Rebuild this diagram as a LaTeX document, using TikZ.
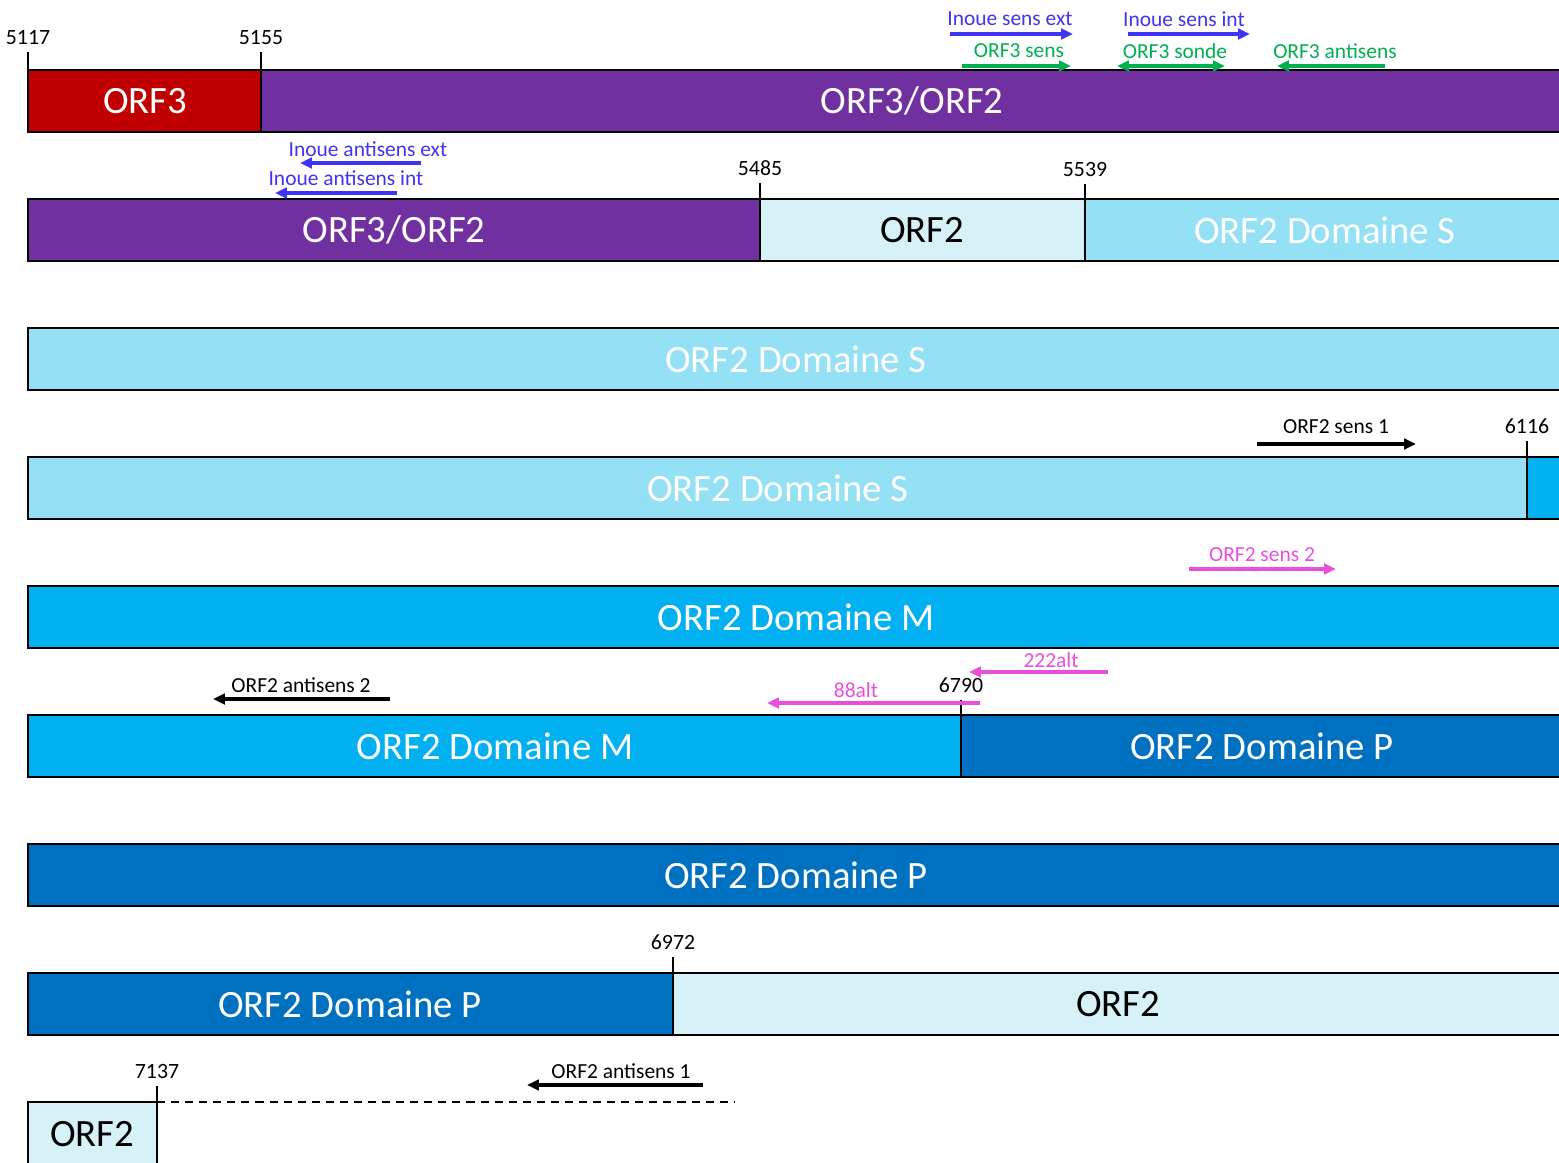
\documentclass[tikz,border=0pt]{standalone}
\usepackage{fontspec}
\setmainfont{Carlito}
\usepackage{xcolor}
\usetikzlibrary{arrows.meta,positioning}

\definecolor{orfred}{HTML}{C00000}
\definecolor{orfpurple}{HTML}{7030A0}
\definecolor{orfpale}{HTML}{D6F1F8}
\definecolor{domS}{HTML}{94E0F4}
\definecolor{domM}{HTML}{00B0F0}
\definecolor{domP}{HTML}{0070C0}
\definecolor{inoue}{HTML}{3F33F5}
\definecolor{orfgreen}{HTML}{00B050}
\definecolor{altpink}{HTML}{E94FDC}

\tikzset{
  seg/.style = {draw=black, line width=0.6pt},
  lbl/.style = {font=\fontsize{11}{13}\selectfont, text=white, inner sep=0pt},
  lbldark/.style = {lbl, text=black},
  num/.style = {font=\fontsize{6.2}{7}\selectfont, inner sep=0pt},
  plbl/.style = {font=\fontsize{6.1}{7}\selectfont, inner sep=0pt},
  tickmark/.style = {line width=0.45pt},
  primer/.style = {line width=0.9pt, -{Triangle[length=3.4pt,width=3pt]}},
  probe/.style = {line width=0.9pt, {Triangle[length=3.4pt,width=3pt]}-{Triangle[length=3.4pt,width=3pt]}},
}

\begin{document}
\begin{tikzpicture}[x=0.01cm, y=-0.01cm]
	\clip (0,0) rectangle (1559,1162);

	% ligne 1
	\filldraw[seg, fill=orfred] (28,70) rectangle (261,132);
	\filldraw[seg, fill=orfpurple] (261,70) rectangle (1575,132);
	\node[lbl] (l1a) at (145,101) {ORF3};
	\node[lbl] (l1b) at (912,101) {ORF3/ORF2};
	\draw[tickmark] (28,70) -- (28,52) node[num, above=2pt] (n5117) {5117};
	\draw[tickmark] (261,70) -- (261,52) node[num, above=2pt] (n5155) {5155};
	\draw[primer, inoue] (950,34) -- (1073,34);
	\node[plbl, text=inoue] (pise) at (1010,19) {Inoue sens ext};
	\draw[primer, inoue] (1128,34) -- (1250,34);
	\node[plbl, text=inoue] (pisi) at (1184,19) {Inoue sens int};
	\draw[primer, orfgreen] (962,66) -- (1071,66);
	\node[plbl, text=orfgreen] (po3s) at (1019,51) {ORF3 sens};
	\draw[probe, orfgreen] (1117,66) -- (1225,66);
	\node[plbl, text=orfgreen] (po3p) at (1175,51) {ORF3 sonde};
	\draw[primer, orfgreen] (1385,66) -- (1277,66);
	\node[plbl, text=orfgreen] (po3a) at (1335,51) {ORF3 antisens};

	% ligne 2
	\filldraw[seg, fill=orfpurple] (28,199) rectangle (760,261);
	\filldraw[seg, fill=orfpale] (760,199) rectangle (1085,261);
	\filldraw[seg, fill=domS] (1085,199) rectangle (1575,261);
	\node[lbl] (l2a) at (394,230) {ORF3/ORF2};
	\node[lbldark] (l2b) at (922,230) {ORF2};
	\node[lbl] (l2c) at (1325,230) {ORF2 Domaine S};
	\draw[tickmark] (760,199) -- (760,183) node[num, above=2pt] (n5485) {5485};
	\draw[tickmark] (1085,199) -- (1085,184) node[num, above=2pt] (n5539) {5539};
	\draw[primer, inoue] (421,163) -- (300,163);
	\node[plbl, text=inoue] (piae) at (368,149) {Inoue antisens ext};
	\draw[primer, inoue] (397,193) -- (275,193);
	\node[plbl, text=inoue] (piai) at (346,178) {Inoue antisens int};

	% ligne 3
	\filldraw[seg, fill=domS] (28,328) rectangle (1575,390);
	\node[lbl] (l3a) at (796,359) {ORF2 Domaine S};

	% ligne 4
	\filldraw[seg, fill=domS] (28,457) rectangle (1527,519);
	\filldraw[seg, fill=domM] (1527,457) rectangle (1575,519);
	\node[lbl] (l4a) at (778,488) {ORF2 Domaine S};
	\draw[tickmark] (1527,457) -- (1527,441) node[num, above=2pt] (n6116) {6116};
	\draw[primer, black] (1257,444) -- (1416,444);
	\node[plbl] (po2s1) at (1336,427) {ORF2 sens 1};

	% ligne 5
	\filldraw[seg, fill=domM] (28,586) rectangle (1575,648);
	\node[lbl] (l5a) at (796,617) {ORF2 Domaine M};
	\draw[primer, altpink] (1189,569) -- (1336,569);
	\node[plbl, text=altpink] (po2s2) at (1262,555) {ORF2 sens 2};

	% ligne 6
	\filldraw[seg, fill=domM] (28,715) rectangle (961,777);
	\filldraw[seg, fill=domP] (961,715) rectangle (1575,777);
	\node[lbl] (l6a) at (495,746) {ORF2 Domaine M};
	\node[lbl] (l6b) at (1262,746) {ORF2 Domaine P};
	\draw[tickmark] (961,715) -- (961,700) node[num, above=2pt] (n6790) {6790};
	\draw[primer, altpink] (1108,672) -- (969,672);
	\node[plbl, text=altpink] (p222) at (1051,660) {222alt};
	\draw[primer, altpink] (980,703) -- (767,703);
	\node[plbl, text=altpink] (p88) at (856,690) {88alt};
	\draw[primer, black] (390,699) -- (213,699);
	\node[plbl] (po2a2) at (301,685) {ORF2 antisens 2};

	% ligne 7
	\filldraw[seg, fill=domP] (28,844) rectangle (1575,906);
	\node[lbl] (l7a) at (796,875) {ORF2 Domaine P};

	% ligne 8
	\filldraw[seg, fill=domP] (28,973) rectangle (673,1035);
	\filldraw[seg, fill=orfpale] (673,973) rectangle (1575,1035);
	\node[lbl] (l8a) at (350,1004) {ORF2 Domaine P};
	\node[lbldark] (l8b) at (1118,1004) {ORF2};
	\draw[tickmark] (673,973) -- (673,957) node[num, above=2pt] (n6972) {6972};

	% ligne 9
	\filldraw[seg, fill=orfpale] (28,1102) rectangle (157,1185);
	\node[lbldark] (l9a) at (92,1134) {ORF2};
	\draw[line width=0.6pt, dash pattern=on 2.3pt off 1.7pt] (157,1102) -- (735,1102);
	\draw[tickmark] (157,1102) -- (157,1086) node[num, above=2pt] (n7137) {7137};
	\draw[primer, black] (703,1085) -- (527,1085);
	\node[plbl] (po2a1) at (621,1071) {ORF2 antisens 1};
\end{tikzpicture}
\end{document}
